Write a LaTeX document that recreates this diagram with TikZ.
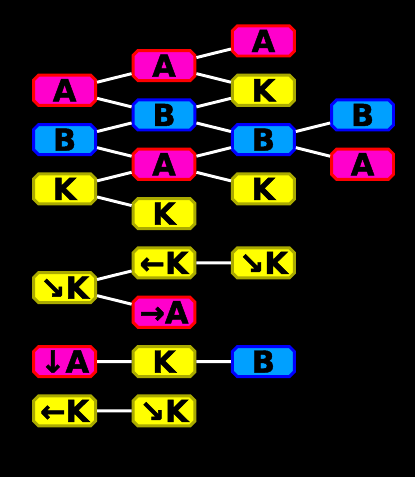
\documentclass[tikz,border=0pt]{standalone}
\usepackage{fontspec}
\setmainfont{DejaVu Sans}
\newfontfamily\pixel{DejaVu Sans Bold}[FakeBold=1.5]
\usetikzlibrary{shapes.misc}

\definecolor{rosa}{RGB}{255,0,204}
\definecolor{rojo}{RGB}{255,0,0}
\definecolor{celeste}{RGB}{0,160,255}
\definecolor{azul}{RGB}{0,0,255}
\definecolor{amarillo}{RGB}{255,255,0}
\definecolor{oliva}{RGB}{170,170,0}

\tikzset{
  boton/.style={chamfered rectangle, chamfered rectangle xsep=0.1cm, chamfered rectangle ysep=0.1cm,
    minimum width=2.51cm, minimum height=1.22cm, inner sep=0pt, line width=0.12cm,
    font=\pixel\fontsize{35}{35}\selectfont, text=black},
  botA/.style={boton, draw=rojo, fill=rosa},
  botB/.style={boton, draw=azul, fill=celeste},
  botK/.style={boton, draw=oliva, fill=amarillo},
  enlace/.style={white, line width=0.12cm}
}

\begin{document}
\begin{tikzpicture}
% Fondo
\fill[black] (0,0) rectangle (16.82,-19.34);
\useasboundingbox (0,0) rectangle (16.82,-19.34);

% Arbol
\node[botA] (a1) at (2.62,-3.66) {A};
\node[botB] (b1) at (2.62,-5.66) {B};
\node[botK] (k1) at (2.62,-7.66) {K};
\node[botA] (a2) at (6.65,-2.66) {A};
\node[botB] (b2) at (6.65,-4.66) {B};
\node[botA] (a2x) at (6.65,-6.66) {A};
\node[botK] (k2) at (6.65,-8.66) {K};
\node[botA] (a3) at (10.68,-1.66) {A};
\node[botK] (k3) at (10.68,-3.66) {K};
\node[botB] (b3) at (10.68,-5.66) {B};
\node[botK] (k3x) at (10.68,-7.66) {K};
\node[botB] (b4) at (14.70,-4.66) {B};
\node[botA] (a4) at (14.70,-6.66) {A};

\draw[enlace] (a1) -- (a2);
\draw[enlace] (a1) -- (b2);
\draw[enlace] (b1) -- (b2);
\draw[enlace] (b1) -- (a2x);
\draw[enlace] (k1) -- (a2x);
\draw[enlace] (k1) -- (k2);
\draw[enlace] (a2) -- (a3);
\draw[enlace] (a2) -- (k3);
\draw[enlace] (b2) -- (k3);
\draw[enlace] (b2) -- (b3);
\draw[enlace] (a2x) -- (b3);
\draw[enlace] (a2x) -- (k3x);
\draw[enlace] (b3) -- (b4);
\draw[enlace] (b3) -- (a4);

% Direcciones
\node[botK] (dk1) at (2.62,-11.66) {↘K};
\node[botK] (lk2) at (6.65,-10.66) {←K};
\node[botA] (ra2) at (6.65,-12.66) {→A};
\node[botK] (dk3) at (10.68,-10.66) {↘K};

\draw[enlace] (dk1) -- (lk2);
\draw[enlace] (dk1) -- (ra2);
\draw[enlace] (lk2) -- (dk3);

% Cadenas
\node[botA] (da1) at (2.62,-14.66) {↓A};
\node[botK] (k2y) at (6.65,-14.66) {K};
\node[botB] (b3y) at (10.68,-14.66) {B};
\node[botK] (lk1) at (2.62,-16.66) {←K};
\node[botK] (dk2) at (6.65,-16.66) {↘K};

\draw[enlace] (da1) -- (k2y);
\draw[enlace] (k2y) -- (b3y);
\draw[enlace] (lk1) -- (dk2);
\end{tikzpicture}
\end{document}
